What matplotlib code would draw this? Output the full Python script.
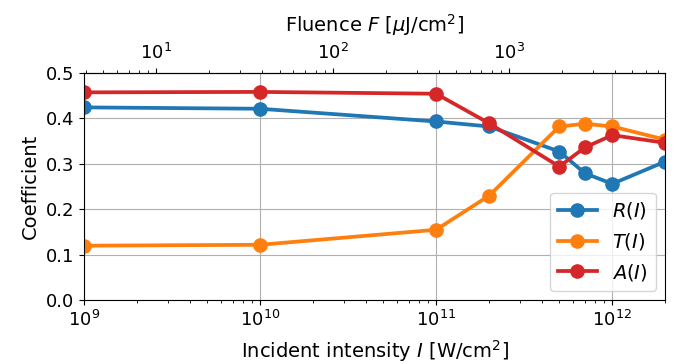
import numpy as np
import matplotlib
matplotlib.use("Agg")
import matplotlib.pyplot as plt
from matplotlib.ticker import NullFormatter, FixedLocator

# incident intensity [W/cm^2]
intensity = [1e9, 1e10, 1e11, 2e11, 5e11, 7e11, 1e12, 2e12]
R = [0.424, 0.421, 0.393, 0.382, 0.327, 0.279, 0.256, 0.305]
T = [0.120, 0.122, 0.155, 0.230, 0.382, 0.388, 0.382, 0.353]
A = [0.457, 0.458, 0.454, 0.389, 0.294, 0.336, 0.363, 0.346]

# I [W/cm^2] -> F [uJ/cm^2]
conv = 3.87e-9
fluence_ticks = [1e1, 1e2, 1e3]

plt.rcParams['font.size'] = 13
plt.rcParams['axes.labelsize'] = 14

fig, ax = plt.subplots(figsize=(6.81, 3.64), dpi=100)
fig.subplots_adjust(left=0.123, right=0.977, top=0.8, bottom=0.175)

ax.plot(intensity, R, 'o-', color='tab:blue', lw=2.7, ms=9.5, label='$R(I)$')
ax.plot(intensity, T, 'o-', color='tab:orange', lw=2.7, ms=9.5, label='$T(I)$')
ax.plot(intensity, A, 'o-', color='tab:red', lw=2.7, ms=9.5, label='$A(I)$')

ax.set_xscale('log')
ax.set_xlim(1e9, 2e12)
ax.set_ylim(0, 0.5)
ax.set_yticks(np.arange(0, 0.51, 0.1))
ax.grid(True)
ax.set_xlabel('Incident intensity $I$ [W/cm$^2$]', labelpad=6)
ax.set_ylabel('Coefficient')
ax.legend(loc='lower right', fontsize=14)

sec = ax.secondary_xaxis('top', functions=(lambda x: x * conv, lambda f: f / conv))
sec.xaxis.set_major_locator(FixedLocator(fluence_ticks))
sec.xaxis.set_minor_formatter(NullFormatter())
sec.set_xlabel('Fluence $F$ [$\\mu$J/cm$^2$]', labelpad=8)

fig.savefig('out.png', dpi=100)
